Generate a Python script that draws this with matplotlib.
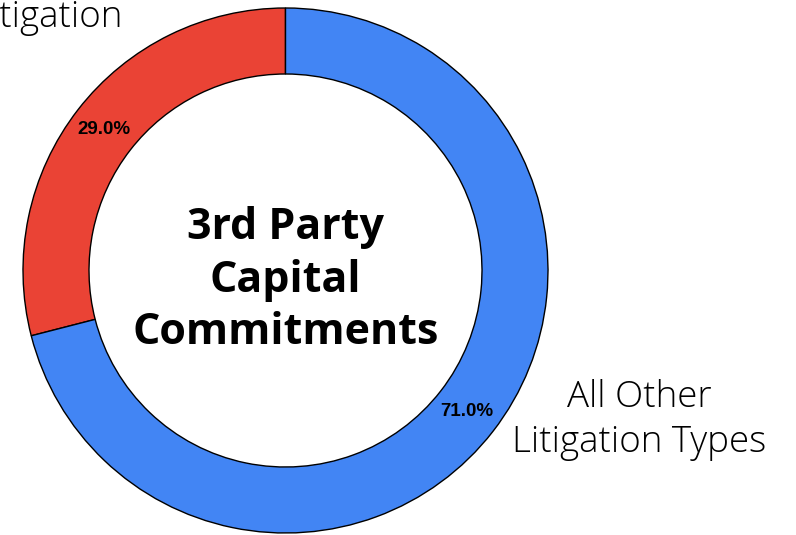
import matplotlib.pyplot as plt

# dati della torta
etichette = ["Litigation", "All Other\nLitigation Types"]
quote = [29.0, 71.0]
colori = ["#EA4335", "#4285F4"]
titolo_centro = "3rd Party\nCapital\nCommitments"

fig = plt.figure(figsize=(7.96, 5.35), dpi=100)
ax = fig.add_axes([0, 0, 1, 1])

# coordinate in pixel (y dal basso)
cx, cy, r = 285.5, 264.5, 262.5

wedges, testi, pct = ax.pie(
    quote, colors=colori, startangle=90, counterclock=True,
    center=(cx, cy), radius=r, autopct="%.1f%%", pctdistance=0.876,
    wedgeprops=dict(width=66, edgecolor="black", linewidth=1.0),
    textprops=dict(fontsize=13.5, fontweight="bold", family="Liberation Sans"),
)

ax.set_xlim(0, 796)
ax.set_ylim(0, 535)
ax.set_aspect("equal")
ax.axis("off")

# testo al centro
ax.text(cx, 535 - 280, titolo_centro, ha="center", va="center", fontsize=31,
        fontweight="bold", family="Open Sans", linespacing=1.3)

# etichette esterne
ax.text(639, 535 - 420, etichette[1], ha="center", va="center", fontsize=26.5,
        fontweight="light", family="Open Sans", color="black", linespacing=1.28)
ax.text(123, 535 - 27, etichette[0], ha="right", va="baseline", fontsize=26.5,
        fontweight="light", family="Open Sans", color="black")

fig.savefig("out.png", dpi=100)
